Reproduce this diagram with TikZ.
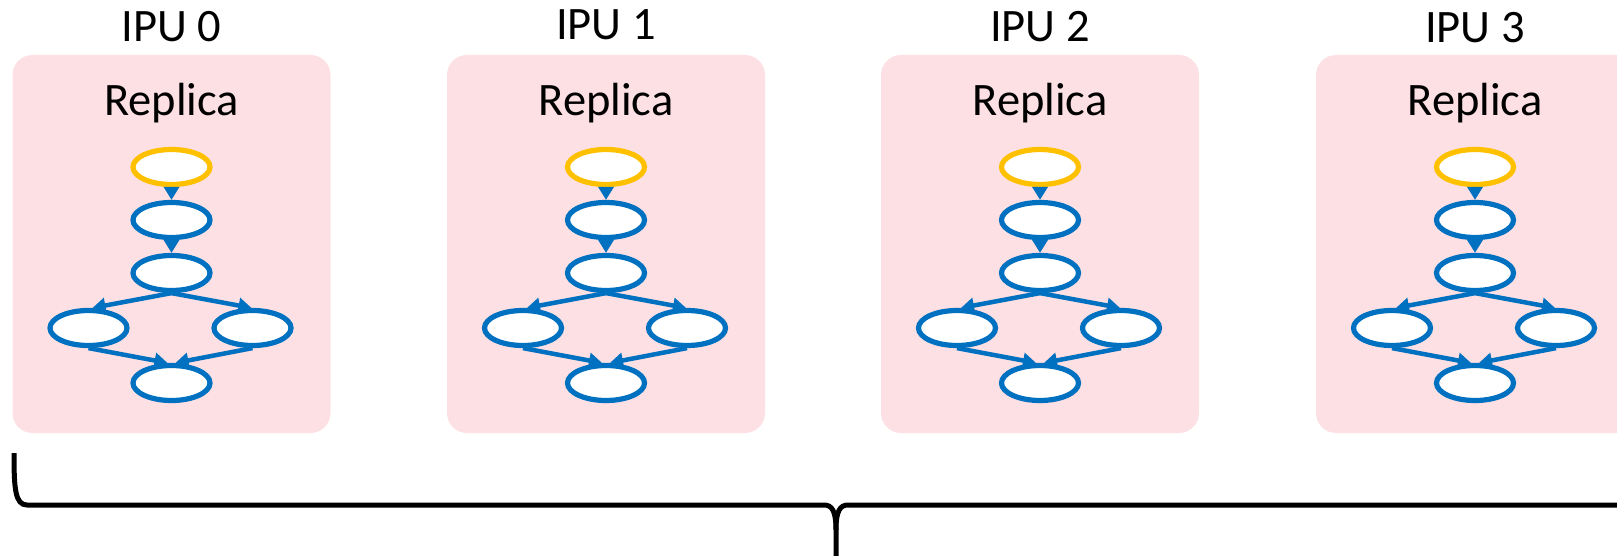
\documentclass[tikz,border=0pt]{standalone}
\usepackage{fontspec}
\setmainfont{Carlito}
\usetikzlibrary{shapes.geometric,arrows.meta}
\definecolor{replicapink}{RGB}{253,224,227}
\definecolor{opblue}{RGB}{0,112,192}
\definecolor{inputgold}{RGB}{255,192,0}
\begin{document}
\begin{tikzpicture}[x=1pt,y=-1pt,
  box/.style={fill=replicapink, rounded corners=20pt, minimum width=318pt,
    minimum height=378pt, inner sep=0pt},
  lbl/.style={font=\fontsize{46.5}{56}\selectfont, anchor=base, inner sep=0pt},
  op/.style={ellipse, draw=opblue, line width=5.2pt, fill=white,
    minimum width=77pt, minimum height=35pt, inner sep=0pt},
  inop/.style={op, draw=inputgold},
  flow/.style={draw=opblue, line width=4.5pt,
    -{Triangle[width=15pt,length=13pt]}},
  brace/.style={draw=black, line width=5pt}
]
\useasboundingbox (0,0) rectangle (1617,556);
\clip (0,0) rectangle (1617,556);

% one replica per IPU: label, pink panel and its small dataflow graph
\foreach \i/\cx/\ly in {0/171.5/41.5, 1/606/40, 2/1040/41.5, 3/1475/43} {
  \node[box] (box\i) at (\cx,244) {};
  \node[lbl] (ipu\i) at (\cx,\ly) {IPU \i};
  \node[lbl] (rep\i) at (\cx,116) {Replica};

  \node[inop] (t\i) at (\cx,167) {};
  \node[op]   (a\i) at (\cx,220) {};
  \node[op]   (b\i) at (\cx,273) {};
  \node[op]   (l\i) at (\cx-83,328) {};
  \node[op]   (r\i) at (\cx+81,328) {};
  \node[op]   (m\i) at (\cx,383) {};

  \draw[flow] (t\i.south) -- (a\i.north);
  \draw[flow] (a\i.south) -- (b\i.north);
  \draw[flow] (b\i.south) -- ([xshift=4pt]l\i.north);
  \draw[flow] (b\i.south) -- ([xshift=-1pt]r\i.north);
  \draw[flow] (l\i.south) -- ([xshift=-4pt]m\i.north);
  \draw[flow] (r\i.south) -- ([xshift=4pt]m\i.north);
}

% brace spanning the replicas
\draw[brace] (14,453) .. controls (14,488) and (15,505) .. (27,505)
  -- (824,505) .. controls (832,505) and (836,511) .. (836,530) -- (836,560);
\draw[brace] (1630,505) -- (848,505) .. controls (840,505) and (836,511) .. (836,530);
\end{tikzpicture}
\end{document}
